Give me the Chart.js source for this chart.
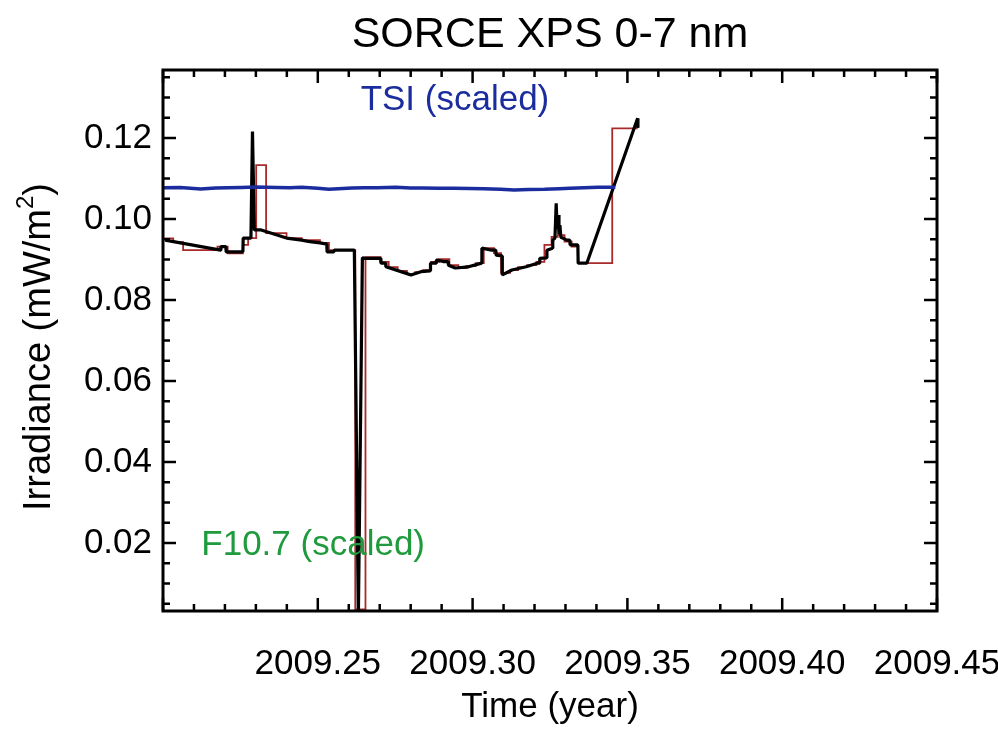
<!DOCTYPE html>
<html>
<head>
<meta charset="utf-8">
<script src="https://cdn.jsdelivr.net/npm/chart.js@4.4.1/dist/chart.umd.min.js"></script>
<style>
  body { margin: 0; background: #ffffff; }
  #wrap { width: 998px; height: 736px; }
</style>
</head>
<body>
<div id="wrap"><canvas id="xpsChart" width="998" height="736"></canvas></div>
<script>
const xTicks = [2009.25, 2009.30, 2009.35, 2009.40, 2009.45];
const yTicks = [0.02, 0.04, 0.06, 0.08, 0.10, 0.12];

// TSI (scaled)
const tsiTime = [
  2009.2000, 2009.2056, 2009.2121, 2009.2170, 2009.2210, 2009.2252, 2009.2301,
  2009.2366, 2009.2410, 2009.2448, 2009.2500, 2009.2536, 2009.2611, 2009.2650,
  2009.2693, 2009.2752, 2009.2800, 2009.2840, 2009.2890, 2009.2938, 2009.2990,
  2009.3036, 2009.3090, 2009.3134, 2009.3180, 2009.3232, 2009.3280, 2009.3314,
  2009.3360, 2009.3405, 2009.3461
];
const tsiValue = [
  0.10773, 0.10778, 0.10741, 0.10765, 0.10770, 0.10778, 0.10790,
  0.10778, 0.10770, 0.10783, 0.10760, 0.10733, 0.10765, 0.10770,
  0.10773, 0.10783, 0.10765, 0.10765, 0.10760, 0.10758, 0.10752,
  0.10748, 0.10735, 0.10716, 0.10728, 0.10733, 0.10750, 0.10758,
  0.10775, 0.10783, 0.10783
];

// XPS 0-7 nm measurements
const xpsTime = [
  2009.2007, 2009.2186, 2009.2187, 2009.2203, 2009.2204, 2009.2258, 2009.2259,
  2009.2284, 2009.2289, 2009.2295, 2009.2317, 2009.2399, 2009.2448, 2009.2474,
  2009.2507, 2009.2529, 2009.2530, 2009.2552, 2009.2553, 2009.2618, 2009.2631,
  2009.2644, 2009.2654, 2009.2703, 2009.2704, 2009.2719, 2009.2720, 2009.2781,
  2009.2801, 2009.2833, 2009.2863, 2009.2864, 2009.2882, 2009.2883, 2009.2905,
  2009.2921, 2009.2922, 2009.2944, 2009.2987, 2009.3029, 2009.3030, 2009.3062,
  2009.3075, 2009.3076, 2009.3095, 2009.3096, 2009.3127, 2009.3173, 2009.3209,
  2009.3216, 2009.3217, 2009.3239, 2009.3240, 2009.3258, 2009.3259, 2009.3266,
  2009.3270, 2009.3273, 2009.3276, 2009.3279, 2009.3282, 2009.3285, 2009.3291,
  2009.3304, 2009.3314, 2009.3315, 2009.3340, 2009.3341, 2009.3369, 2009.3533,
  2009.3534
];
const xpsValue = [
  0.0948, 0.0923, 0.0932, 0.0932, 0.0919, 0.0919, 0.0953,
  0.0953, 0.1216, 0.0973, 0.0973, 0.0953, 0.0948, 0.0944,
  0.0941, 0.0938, 0.0919, 0.0919, 0.0923, 0.0923, 0.0020,
  0.0904, 0.0903, 0.0903, 0.0891, 0.0891, 0.0882, 0.0867,
  0.0862, 0.0870, 0.0872, 0.0891, 0.0891, 0.0899, 0.0895,
  0.0895, 0.0886, 0.0879, 0.0882, 0.0891, 0.0928, 0.0923,
  0.0923, 0.0911, 0.0909, 0.0862, 0.0874, 0.0882, 0.0891,
  0.0891, 0.0903, 0.0904, 0.0923, 0.0928, 0.0948, 0.0953,
  0.1039, 0.0975, 0.1010, 0.0962, 0.0985, 0.0955, 0.0953,
  0.0948, 0.0948, 0.0936, 0.0936, 0.0891, 0.0891, 0.1249,
  0.1225
];

// daily averages (step)
const dailyTime = [
  2009.2000, 2009.2033, 2009.2065, 2009.2176, 2009.2209, 2009.2258, 2009.2275,
  2009.2301, 2009.2333, 2009.2399, 2009.2448, 2009.2507, 2009.2536, 2009.2621,
  2009.2654, 2009.2703, 2009.2729, 2009.2758, 2009.2788, 2009.2814, 2009.2840,
  2009.2866, 2009.2892, 2009.2925, 2009.2954, 2009.2980, 2009.3010, 2009.3036,
  2009.3069, 2009.3092, 2009.3121, 2009.3147, 2009.3176, 2009.3206, 2009.3232,
  2009.3255, 2009.3275, 2009.3297, 2009.3320, 2009.3340, 2009.3451, 2009.3533
];
const dailyValue = [
  0.0952, 0.0943, 0.0923, 0.0932, 0.0915, 0.0936, 0.0953,
  0.1133, 0.0965, 0.0953, 0.0948, 0.0941, 0.0923, 0.0036,
  0.0906, 0.0894, 0.0881, 0.0872, 0.0864, 0.0869, 0.0874,
  0.0894, 0.0901, 0.0886, 0.0879, 0.0884, 0.0891, 0.0928,
  0.0916, 0.0867, 0.0874, 0.0881, 0.0886, 0.0894, 0.0936,
  0.0956, 0.0960, 0.0944, 0.0932, 0.0891, 0.1224, 0.1224
];

const FONT = "'Liberation Sans', Arial, Helvetica, sans-serif";

function toPoints(xs, ys) {
  return xs.map((t, i) => ({ x: t, y: ys[i] }));
}

// IDL style box with inward ticks on all four sides, plus the texts
const frame = {
  id: 'frame',
  afterDraw(chart) {
    const ctx = chart.ctx;
    const a = chart.chartArea;
    const x = chart.scales.x;
    const y = chart.scales.y;
    ctx.save();
    ctx.strokeStyle = '#000';
    ctx.lineWidth = 2.5;
    ctx.beginPath();
    for (let k = 0; k <= 25; k++) {
      const px = x.getPixelForValue(2009.20 + k * 0.01);
      const len = k % 5 === 0 ? 13 : 7;
      ctx.moveTo(px, a.bottom); ctx.lineTo(px, a.bottom - len);
      ctx.moveTo(px, a.top); ctx.lineTo(px, a.top + len);
    }
    for (let k = 1; k <= 27; k++) {
      const py = y.getPixelForValue(k * 0.005);
      const len = k % 4 === 0 ? 13 : 7;
      ctx.moveTo(a.left, py); ctx.lineTo(a.left + len, py);
      ctx.moveTo(a.right, py); ctx.lineTo(a.right - len, py);
    }
    ctx.stroke();
    ctx.lineWidth = 3;
    ctx.strokeRect(a.left, a.top, a.right - a.left, a.bottom - a.top);

    ctx.fillStyle = '#000';
    ctx.textBaseline = 'alphabetic';
    ctx.textAlign = 'center';
    ctx.font = '43px ' + FONT;
    ctx.fillText('SORCE XPS 0-7 nm', (a.left + a.right) / 2, 47);
    ctx.font = '35px ' + FONT;
    ctx.fillText('Time (year)', (a.left + a.right) / 2, 717);

    // y title with superscript
    ctx.save();
    ctx.translate(50, 347);
    ctx.rotate(-Math.PI / 2);
    ctx.textAlign = 'left';
    const p1 = 'Irradiance (mW/m', p2 = '2', p3 = ')';
    ctx.font = '38px ' + FONT;
    const w1 = ctx.measureText(p1).width;
    const w3 = ctx.measureText(p3).width;
    ctx.font = '24px ' + FONT;
    const w2 = ctx.measureText(p2).width;
    const sx = -(w1 + w2 + w3) / 2;
    ctx.font = '38px ' + FONT;
    ctx.fillText(p1, sx, 0);
    ctx.font = '24px ' + FONT;
    ctx.fillText(p2, sx + w1, -17);
    ctx.font = '38px ' + FONT;
    ctx.fillText(p3, sx + w1 + w2, 0);
    ctx.restore();

    ctx.font = '35px ' + FONT;
    ctx.fillStyle = '#1b2c9e';
    ctx.fillText('TSI (scaled)', x.getPixelForValue(2009.2943), y.getPixelForValue(0.1269));
    ctx.fillStyle = '#1f9a3c';
    ctx.fillText('F10.7 (scaled)', x.getPixelForValue(2009.2485), y.getPixelForValue(0.0170));
    ctx.restore();
  }
};

new Chart(document.getElementById('xpsChart').getContext('2d'), {
  type: 'scatter',
  data: {
    datasets: [
      {
        label: 'TSI (scaled)',
        data: toPoints(tsiTime, tsiValue),
        showLine: true,
        borderColor: '#1b2c9e',
        borderWidth: 3.5,
        pointRadius: 0
      },
      {
        label: 'XPS',
        data: toPoints(xpsTime, xpsValue),
        showLine: true,
        borderColor: '#000000',
        borderWidth: 3.2,
        borderJoinStyle: 'bevel',
        pointRadius: 0
      },
      {
        label: 'Daily',
        data: toPoints(dailyTime, dailyValue),
        showLine: true,
        stepped: true,
        borderColor: '#a82a2a',
        borderWidth: 1.8,
        pointRadius: 0
      }
    ]
  },
  options: {
    responsive: false,
    animation: false,
    layout: { padding: { top: 70, right: 61, left: 0, bottom: 0 } },
    plugins: {
      legend: { display: false },
      title: { display: false },
      tooltip: { enabled: false }
    },
    scales: {
      x: {
        type: 'linear',
        min: 2009.20,
        max: 2009.45,
        grid: { display: false, drawTicks: false },
        border: { display: false },
        afterBuildTicks(scale) { scale.ticks = xTicks.map(v => ({ value: v })); },
        afterFit(scale) {
          scale.height = 125;
          scale.paddingLeft = 0;
          scale.paddingRight = 0;
        },
        ticks: {
          padding: 32,
          maxRotation: 0,
          autoSkip: false,
          color: '#000',
          font: { size: 35, family: FONT },
          callback: v => v.toFixed(2)
        }
      },
      y: {
        min: 0.0032,
        max: 0.1368,
        grid: { display: false, drawTicks: false },
        border: { display: false },
        afterBuildTicks(scale) { scale.ticks = yTicks.map(v => ({ value: v })); },
        afterFit(scale) {
          scale.width = 163;
          scale.paddingTop = 0;
          scale.paddingBottom = 0;
        },
        ticks: {
          padding: 11,
          autoSkip: false,
          color: '#000',
          font: { size: 35, family: FONT },
          callback: v => v.toFixed(2)
        }
      }
    }
  },
  plugins: [frame]
});
</script>
</body>
</html>
